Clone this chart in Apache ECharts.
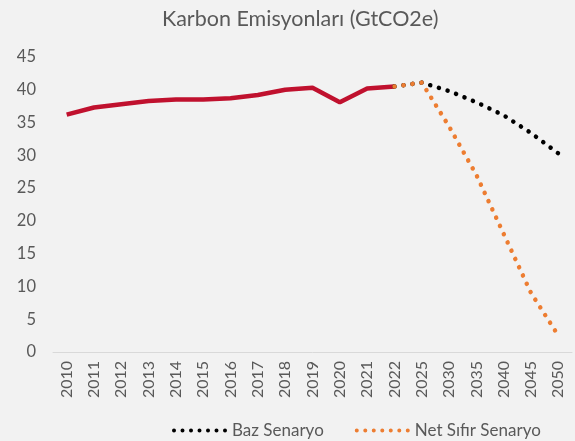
<!DOCTYPE html>
<html>
<head>
<meta charset="utf-8">
<script src="https://cdn.jsdelivr.net/npm/echarts@6/dist/echarts.min.js"></script>
<style>
  html, body { margin: 0; padding: 0; background: #f2f2f2; }
  #chart { width: 575px; height: 441px; }
</style>
</head>
<body>
<div id="chart"></div>
<script>
// yillar (kategori ekseni)
const years = ['2010', '2011', '2012', '2013', '2014', '2015', '2016', '2017', '2018', '2019', '2020', '2021', '2022',
    '2025', '2030', '2035', '2040', '2045', '2050'];

// tarihsel emisyonlar 2010-2022
const historical = [36.2, 37.3, 37.8, 38.3, 38.5, 38.5, 38.7, 39.2, 40.0, 40.3, 38.1, 40.2, 40.5,
    null, null, null, null, null, null];

// senaryolar 2022-2050
const bazSenaryo = [null, null, null, null, null, null, null, null, null, null, null, null, 40.5,
    41.1, 39.8, 38.1, 36.1, 33.4, 30.3];
const netSifir = [null, null, null, null, null, null, null, null, null, null, null, null, 40.5,
    41.1, 34.4, 27.0, 18.0, 9.0, 2.5];

const yTicks = { min: 0, max: 45, interval: 5 };

const font = 'Lato, "Open Sans", sans-serif';
const gray = '#595959';

// legend icon: a row of 7 dots
let dotsPath = 'path://';
for (let i = 0; i < 7; i++) {
    let cx = 2 + i * 8.5;
    dotsPath += 'M' + (cx - 2) + ',2a2,2 0 1,0 4,0a2,2 0 1,0 -4,0z';
}

let chart = echarts.init(document.getElementById('chart'));

function dotted(color) {
    return {
        color: color,
        width: 4.5,
        type: [0.1, 9],
        cap: 'round'
    };
}

let option = {
    backgroundColor: '#f2f2f2',
    title: {
        text: 'Karbon Emisyonları (GtCO2e)',
        left: 157,
        top: 3,
        textStyle: { fontFamily: font, fontSize: 21.5, fontWeight: 'normal', color: gray }
    },
    legend: {
        top: 417,
        left: 167,
        data: [
            { name: 'Baz Senaryo', icon: dotsPath },
            { name: 'Net Sıfır Senaryo', icon: dotsPath }
        ],
        itemWidth: 55,
        itemHeight: 4,
        itemGap: 31,
        textStyle: { fontFamily: font, fontSize: 17, color: gray }
    },
    grid: { left: 53, right: 3, top: 57, bottom: 89 },
    xAxis: {
        type: 'category',
        data: years,
        boundaryGap: true,
        axisTick: { show: false },
        axisLine: { lineStyle: { color: '#d9d9d9', width: 1 } },
        axisLabel: { rotate: 90, margin: 9, fontFamily: font, fontSize: 16, color: gray }
    },
    yAxis: {
        type: 'value',
        min: yTicks.min,
        max: yTicks.max,
        interval: yTicks.interval,
        splitLine: { show: false },
        axisLine: { show: false },
        axisTick: { show: false },
        axisLabel: { margin: 17, fontFamily: font, fontSize: 16.5, color: gray }
    },
    series: [
        {
            name: 'Tarihsel',
            type: 'line',
            data: historical,
            symbol: 'none',
            lineStyle: { color: '#c0112e', width: 4.5 },
            itemStyle: { color: '#c0112e' }
        },
        {
            name: 'Baz Senaryo',
            type: 'line',
            data: bazSenaryo,
            symbol: 'none',
            lineStyle: dotted('#000000'),
            itemStyle: { color: '#000000' }
        },
        {
            name: 'Net Sıfır Senaryo',
            type: 'line',
            data: netSifir,
            symbol: 'none',
            lineStyle: dotted('#ed7d31'),
            itemStyle: { color: '#ed7d31' }
        }
    ]
};

chart.setOption(option);
</script>
</body>
</html>
